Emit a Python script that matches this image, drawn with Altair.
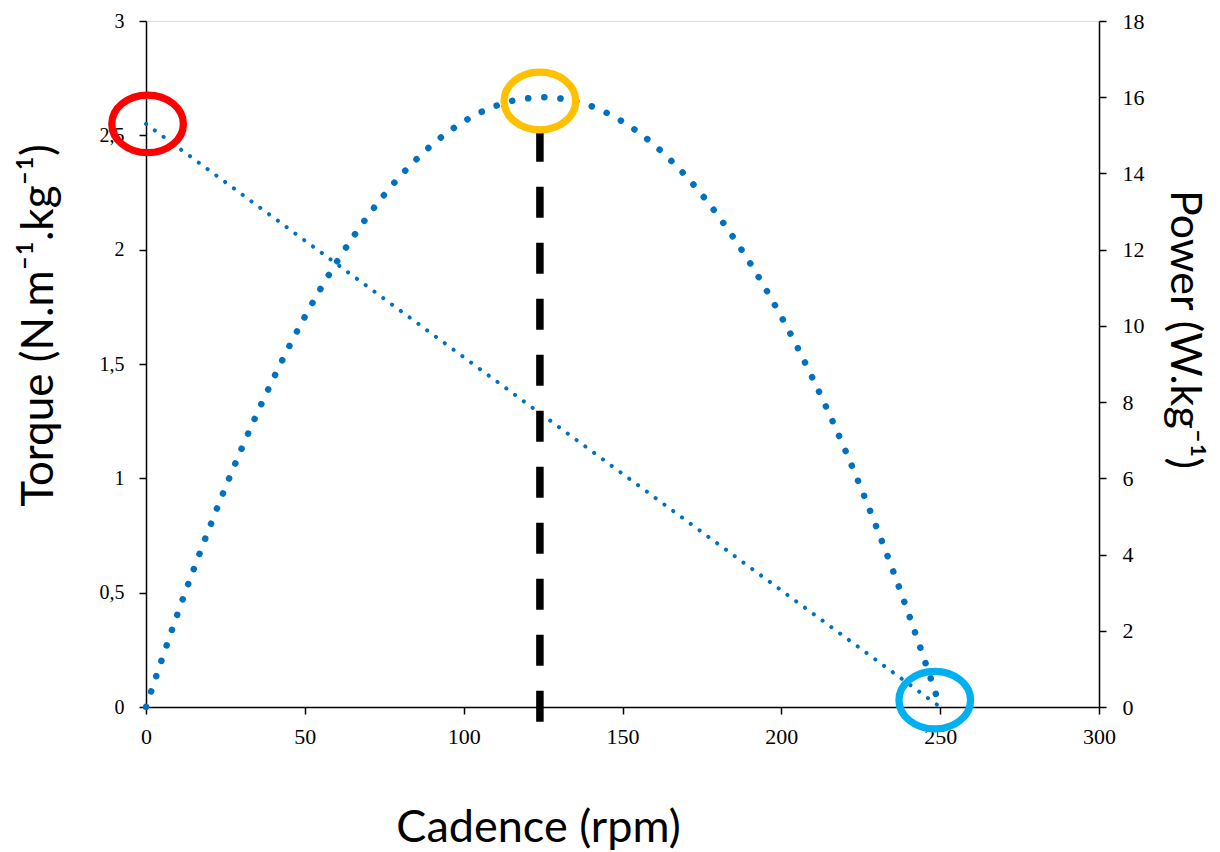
import altair as alt
import pandas as pd

# ---- data ----
cadence = [0, 5, 10, 15, 20, 25, 30, 35, 40, 45, 50, 55, 60, 65, 70, 75, 80, 85, 90, 95,
           100, 105, 110, 115, 120, 125, 130, 135, 140, 145, 150, 155, 160, 165, 170, 175,
           180, 185, 190, 195, 200, 205, 210, 215, 220, 225, 230, 235, 240, 245, 250]
power = [0.00, 1.25, 2.46, 3.61, 4.71, 5.76, 6.76, 7.71, 8.60, 9.45, 10.24, 10.98, 11.67,
         12.31, 12.90, 13.44, 13.93, 14.36, 14.75, 15.08, 15.36, 15.59, 15.77, 15.90, 15.97,
         16.00, 15.97, 15.90, 15.77, 15.59, 15.36, 15.08, 14.75, 14.36, 13.93, 13.44, 12.90,
         12.31, 11.67, 10.98, 10.24, 9.45, 8.60, 7.71, 6.76, 5.76, 4.71, 3.61, 2.46, 1.25, 0.00]

torque_cadence = [0, 250]
torque_values = [2.55, 0.0]

peak_cadence = [124]
peak_top = [2.52]
peak_bottom = [-0.07]

marker_cadence = [0.5, 124, 248.3]
marker_torque = [2.55, 2.65, 0.03]
marker_colors = ["#FF0000", "#FFC000", "#00B0F0"]

x_ticks = [0, 50, 100, 150, 200, 250, 300]
torque_ticks = [0, 0.5, 1, 1.5, 2, 2.5, 3]
power_ticks = [0, 2, 4, 6, 8, 10, 12, 14, 16, 18]

# ---- tables ----
power_df = pd.DataFrame({"cadence": cadence, "power": power})
torque_df = pd.DataFrame({"cadence": torque_cadence, "torque": torque_values})
peak_df = pd.DataFrame({"cadence": peak_cadence, "top": peak_top, "bottom": peak_bottom})
marker_df = pd.DataFrame({"cadence": marker_cadence, "torque": marker_torque, "color": marker_colors})

BLUE = "#0070C0"
TITLE_FONT = "Lato"
LABEL_FONT = "Liberation Serif"

x_scale = alt.Scale(domain=[0, 300], nice=False, zero=False)
x_axis = alt.Axis(values=x_ticks, title="Cadence (rpm)", grid=False,
                  domainColor="black", domainWidth=1.5, tickColor="black", tickWidth=1.5,
                  tickSize=7, labelFont=LABEL_FONT, labelFontSize=22, labelColor="black",
                  labelPadding=12, labelFlush=False,
                  titleFont=TITLE_FONT, titleFontSize=45, titleFontWeight="normal",
                  titleColor="black", titleX=392, titleY=134, titleAlign="center",
                  titleBaseline="alphabetic")

t_scale = alt.Scale(domain=[0, 3], nice=False, zero=False)
t_axis = alt.Axis(values=torque_ticks, title="Torque (N.m⁻¹.kg⁻¹)", grid=False,
                  domainColor="black", domainWidth=1.5, tickColor="black", tickWidth=1.5,
                  tickSize=7, labelFont=LABEL_FONT, labelFontSize=20, labelColor="black",
                  labelPadding=15, labelFlush=False,
                  labelExpr="replace(format(datum.value, '~g'), '.', ',')",
                  titleFont=TITLE_FONT, titleFontSize=44, titleFontWeight="normal",
                  titleColor="black", titleX=-94, titleY=304, titleAngle=270,
                  titleAlign="center", titleBaseline="alphabetic")

p_scale = alt.Scale(domain=[0, 18], nice=False, zero=False)
p_axis = alt.Axis(values=power_ticks, orient="right", title="Power (W.kg⁻¹)", grid=False,
                  domainColor="black", domainWidth=1.5, tickColor="black", tickWidth=1.5,
                  tickSize=7, labelFont=LABEL_FONT, labelFontSize=22, labelColor="black",
                  labelPadding=16, labelFlush=False,
                  titleFont=TITLE_FONT, titleFontSize=43, titleFontWeight="normal",
                  titleColor="black", titleX=71, titleY=308, titleAngle=90,
                  titleAlign="center", titleBaseline="alphabetic")

X = alt.X("cadence:Q", scale=x_scale, axis=x_axis)

torque_line = alt.Chart(torque_df).mark_line(
    color=BLUE, strokeWidth=4, strokeDash=[0.1, 10.8], strokeCap="round"
).encode(x=X, y=alt.Y("torque:Q", scale=t_scale, axis=t_axis))

peak_rule = alt.Chart(peak_df).mark_rule(
    color="black", strokeWidth=7.5, strokeDash=[31, 25], strokeCap="butt"
).encode(x=X, y=alt.Y("top:Q", scale=t_scale, axis=t_axis), y2="bottom:Q")

ellipse = "M-1,0A1,0.805,0,1,0,1,0A1,0.805,0,1,0,-1,0Z"
markers = alt.Chart(marker_df).mark_point(
    shape=ellipse, size=5127, filled=False, strokeWidth=7.3, opacity=1
).encode(x=X, y=alt.Y("torque:Q", scale=t_scale, axis=None),
         color=alt.Color("color:N", scale=None))

power_line = alt.Chart(power_df).mark_line(
    color=BLUE, strokeWidth=6.5, strokeDash=[0.1, 16.1], strokeCap="round",
    interpolate="monotone"
).encode(x=X, y=alt.Y("power:Q", scale=p_scale, axis=p_axis))

left = alt.layer(torque_line, peak_rule)
chart = alt.layer(left, power_line).resolve_scale(y="independent")
chart = alt.layer(chart, markers)

chart = chart.properties(
    width=953, height=686,
    autosize=alt.AutoSizeParams(type="none"),
    padding={"left": 138, "top": 13, "right": 113, "bottom": 150},
).configure_view(stroke=None).configure(background="white")

chart.save("out.html", embed_options={"renderer": "svg", "actions": False})
